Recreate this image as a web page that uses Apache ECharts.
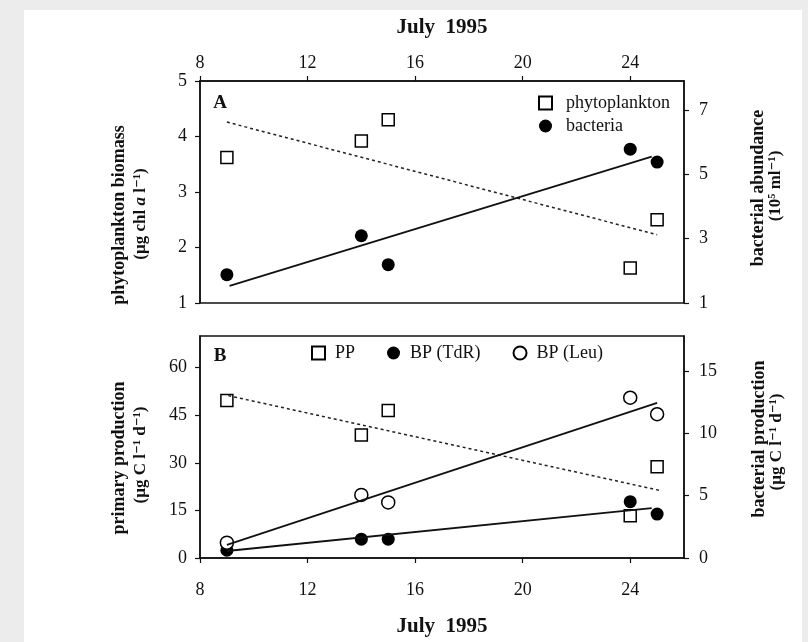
<!DOCTYPE html>
<html>
<head>
<meta charset="utf-8">
<script src="https://cdn.jsdelivr.net/npm/echarts@6/dist/echarts.min.js"></script>
<style>
html,body{margin:0;padding:0;background:#ececec;}
#bg{position:absolute;left:24px;top:10px;width:778px;height:632px;background:#fff;}
#main{position:absolute;left:0;top:0;width:808px;height:642px;}
</style>
</head>
<body>
<div id="bg"></div>
<div id="main"></div>
<script>
// ---- data ----
const days = [9, 14, 15, 24, 25];
const phyto = [3.62, 3.92, 4.30, 1.63, 2.50];
const bacteria = [1.88, 3.09, 2.19, 5.78, 5.38];
const phytoTrend = [[9, 4.26], [25, 2.23]];
const bactTrend = [[9.1, 1.53], [24.8, 5.55]];
const pp = [49.7, 38.8, 46.5, 13.3, 28.8];
const bpTdR = [0.62, 1.51, 1.51, 4.52, 3.52];
const bpLeu = [1.23, 5.06, 4.46, 12.85, 11.53];
const ppTrend = [[9.05, 51.2], [25.1, 21.3]];
const leuTrend = [[9, 1.05], [25, 12.44]];
const tdrTrend = [[9, 0.56], [24.8, 4.0]];
// ---- ticks ----
const xTicks = [8, 12, 16, 20, 24];
const phytoTicks = [1, 2, 3, 4, 5];
const bactTicks = [1, 3, 5, 7];
const ppTicks = [0, 15, 30, 45, 60];
const bpTicks = [0, 5, 10, 15];

const FONT = '"Liberation Serif", "Times New Roman", "DejaVu Serif", serif';
const INK = '#111';
const pts = (xs, ys) => xs.map((x, i) => [x, ys[i]]);

function xAxisDef(gridIndex, position, margin) {
  return {
    type: 'value', gridIndex, position, min: 8, max: 26, interval: 2,
    axisLine: {show: true, lineStyle: {color: INK, width: 1.5}},
    axisTick: {show: true, inside: false, length: 5, customValues: xTicks, lineStyle: {color: INK, width: 1.2}},
    axisLabel: {show: true, customValues: xTicks, margin, fontFamily: FONT, fontSize: 18, color: INK},
    splitLine: {show: false}
  };
}
function yAxisDef(gridIndex, position, min, max, ticks, margin) {
  return {
    type: 'value', gridIndex, position, min, max,
    axisLine: {show: true, lineStyle: {color: INK, width: 1.5}},
    axisTick: {show: true, inside: false, length: 5, customValues: ticks, lineStyle: {color: INK, width: 1.2}},
    axisLabel: {show: true, customValues: ticks, margin, fontFamily: FONT, fontSize: 18, color: INK},
    splitLine: {show: false}
  };
}
const hollow = {color: '#fff', borderColor: '#000', borderWidth: 1.5, opacity: 1};
const filled = {color: '#000', borderColor: '#000', borderWidth: 0, opacity: 1};

function vtext(x, y, text, bold, size) {
  return {
    type: 'text', x, y, rotation: Math.PI / 2,
    style: {
      text, fontFamily: FONT, fontSize: size || 18, fontWeight: bold ? 'bold' : 'normal',
      fill: INK, align: 'center', verticalAlign: 'middle',
      rich: {i: {fontStyle: 'italic', fontFamily: FONT, fontSize: size || 18, fontWeight: bold ? 'bold' : 'normal', fill: INK}}
    }
  };
}
function htext(x, y, text, size) {
  return {
    type: 'text', x, y,
    style: {text, fontFamily: FONT, fontSize: size, fontWeight: 'bold', fill: INK, align: 'center', verticalAlign: 'middle'}
  };
}

const option = {
  animation: false,
  backgroundColor: 'transparent',
  grid: [
    {left: 200, top: 81, width: 484, height: 222, show: true, borderColor: INK, borderWidth: 1.5, backgroundColor: 'transparent'},
    {left: 200, top: 336, width: 484, height: 222, show: true, borderColor: INK, borderWidth: 1.5, backgroundColor: 'transparent'}
  ],
  xAxis: [xAxisDef(0, 'top', 9), xAxisDef(1, 'bottom', 23)],
  yAxis: [
    yAxisDef(0, 'left', 1, 5, phytoTicks, 13),
    yAxisDef(0, 'right', 1, 7.9, bactTicks, 15),
    yAxisDef(1, 'left', 0, 70, ppTicks, 13),
    yAxisDef(1, 'right', 0, 17.8, bpTicks, 15)
  ],
  legend: [
    {
      data: ['phytoplankton', 'bacteria'], orient: 'vertical', left: 533, top: 89,
      itemWidth: 13, itemHeight: 13, itemGap: 5,
      textStyle: {fontFamily: FONT, fontSize: 18, color: INK, padding: [0, 0, 0, 9]}
    },
    {
      data: ['PP', 'BP (TdR)', 'BP (Leu)'], orient: 'horizontal', left: 306, top: 339,
      itemWidth: 13, itemHeight: 13, itemGap: 32,
      textStyle: {fontFamily: FONT, fontSize: 18, color: INK, padding: [0, 0, 0, 5]}
    }
  ],
  series: [
    {type: 'line', xAxisIndex: 0, yAxisIndex: 0, data: phytoTrend, symbol: 'none', silent: true,
      lineStyle: {color: '#222', width: 1.5, type: [3, 3]}},
    {type: 'line', xAxisIndex: 0, yAxisIndex: 1, data: bactTrend, symbol: 'none', silent: true,
      lineStyle: {color: INK, width: 1.8}},
    {name: 'phytoplankton', type: 'scatter', xAxisIndex: 0, yAxisIndex: 0, data: pts(days, phyto),
      symbol: 'rect', symbolSize: 12, itemStyle: hollow},
    {name: 'bacteria', type: 'scatter', xAxisIndex: 0, yAxisIndex: 1, data: pts(days, bacteria),
      symbol: 'circle', symbolSize: 13, itemStyle: filled},

    {type: 'line', xAxisIndex: 1, yAxisIndex: 2, data: ppTrend, symbol: 'none', silent: true,
      lineStyle: {color: '#222', width: 1.5, type: [3, 3]}},
    {type: 'line', xAxisIndex: 1, yAxisIndex: 3, data: leuTrend, symbol: 'none', silent: true,
      lineStyle: {color: INK, width: 1.8}},
    {type: 'line', xAxisIndex: 1, yAxisIndex: 3, data: tdrTrend, symbol: 'none', silent: true,
      lineStyle: {color: INK, width: 1.8}},
    {name: 'PP', type: 'scatter', xAxisIndex: 1, yAxisIndex: 2, data: pts(days, pp),
      symbol: 'rect', symbolSize: 12, itemStyle: hollow},
    {name: 'BP (TdR)', type: 'scatter', xAxisIndex: 1, yAxisIndex: 3, data: pts(days, bpTdR),
      symbol: 'circle', symbolSize: 13, itemStyle: filled},
    {name: 'BP (Leu)', type: 'scatter', xAxisIndex: 1, yAxisIndex: 3, data: pts(days, bpLeu),
      symbol: 'circle', symbolSize: 13, itemStyle: hollow}
  ],
  graphic: [
    htext(442, 28, 'July  1995', 21),
    htext(442, 627, 'July  1995', 21),
    htext(220, 103, 'A', 19),
    htext(220, 356, 'B', 19),
    vtext(119, 215, 'phytoplankton biomass', true),
    vtext(141, 214, '(µg chl {i|a} l⁻¹)', true, 17),
    vtext(758, 188, 'bacterial abundance', true),
    vtext(776, 186, '(10⁵ ml⁻¹)', true, 17),
    vtext(119, 458, 'primary production', true),
    vtext(141, 455, '(µg C l⁻¹ d⁻¹)', true, 17),
    vtext(759, 439, 'bacterial production', true),
    vtext(777, 442, '(µg C l⁻¹ d⁻¹)', true, 17)
  ]
};

const chart = echarts.init(document.getElementById('main'), null, {renderer: 'canvas'});
chart.setOption(option);
</script>
</body>
</html>
